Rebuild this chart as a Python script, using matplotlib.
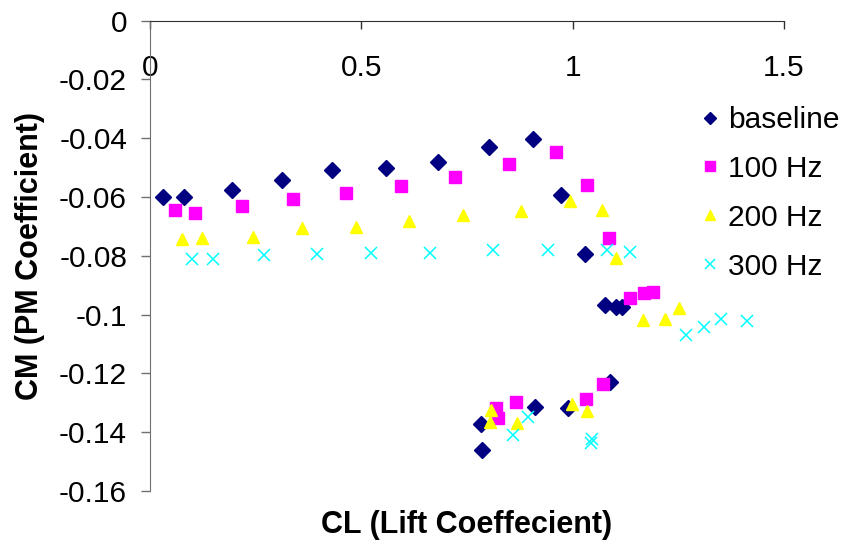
import numpy as np
import matplotlib
matplotlib.use("Agg")
import matplotlib.pyplot as plt
from matplotlib.ticker import FuncFormatter

# CL / CM values
baseline_cl = [0.030, 0.080, 0.193, 0.312, 0.431, 0.558, 0.681, 0.803, 0.907, 0.972,
               1.030, 1.076, 1.102, 1.117, 1.089, 0.989, 0.912, 0.782, 0.785]
baseline_cm = [-0.0600, -0.0601, -0.0575, -0.0541, -0.0510, -0.0502, -0.0481, -0.0430, -0.0404, -0.0593,
               -0.0793, -0.0967, -0.0975, -0.0975, -0.1229, -0.1317, -0.1313, -0.1371, -0.1462]

hz100_cl = [0.058, 0.106, 0.218, 0.338, 0.463, 0.595, 0.722, 0.849, 0.961, 1.035,
            1.087, 1.136, 1.168, 1.190, 1.072, 1.031, 0.867, 0.823, 0.819]
hz100_cm = [-0.0645, -0.0656, -0.0631, -0.0608, -0.0587, -0.0562, -0.0532, -0.0489, -0.0448, -0.0559,
            -0.0738, -0.0943, -0.0926, -0.0923, -0.1235, -0.1286, -0.1296, -0.1351, -0.1318]

hz200_cl = [0.075, 0.123, 0.244, 0.359, 0.487, 0.613, 0.741, 0.877, 0.993, 1.069,
            1.102, 1.166, 1.218, 1.251, 1.035, 0.998, 0.868, 0.806, 0.804]
hz200_cm = [-0.0743, -0.0741, -0.0737, -0.0705, -0.0701, -0.0682, -0.0662, -0.0647, -0.0614, -0.0643,
            -0.0808, -0.1020, -0.1015, -0.0977, -0.1327, -0.1303, -0.1369, -0.1326, -0.1365]

hz300_cl = [0.099, 0.150, 0.270, 0.394, 0.524, 0.662, 0.811, 0.942, 1.081, 1.136,
            1.269, 1.310, 1.352, 1.412, 1.045, 1.043, 0.894, 0.860]
hz300_cm = [-0.0811, -0.0811, -0.0797, -0.0793, -0.0792, -0.0790, -0.0780, -0.0780, -0.0780, -0.0786,
            -0.1071, -0.1041, -0.1014, -0.1022, -0.1422, -0.1436, -0.1349, -0.1411]

x_ticks = [0, 0.5, 1, 1.5]
y_ticks = [0, -0.02, -0.04, -0.06, -0.08, -0.1, -0.12, -0.14, -0.16]

plt.rcParams["font.family"] = ["Liberation Sans", "DejaVu Sans"]

fig = plt.figure(figsize=(8.45, 5.46), dpi=100)
ax = fig.add_axes([150 / 845, 1 - 491 / 546, 634 / 845, 470.5 / 546])

ax.plot(baseline_cl, baseline_cm, "D", color="#000080", ms=7.8, ls="none", label="baseline")
ax.plot(hz100_cl, hz100_cm, "s", color="#FF00FF", ms=8.6, ls="none", label="100 Hz")
ax.plot(hz200_cl, hz200_cm, "^", color="#FFFF00", ms=8.8, ls="none", label="200 Hz")
ax.plot(hz300_cl, hz300_cm, "x", color="#00FFFF", ms=9, mew=1.1, ls="none", label="300 Hz")

ax.set_xlim(0, 1.5)
ax.set_ylim(-0.16, 0)
ax.set_xticks(x_ticks)
ax.set_yticks(y_ticks)
fmt = FuncFormatter(lambda v, p: "%g" % v)
ax.xaxis.set_major_formatter(fmt)
ax.yaxis.set_major_formatter(fmt)

# x axis sits at CM = 0 (top), Excel style
ax.spines["right"].set_visible(False)
ax.spines["top"].set_visible(False)
ax.spines["bottom"].set_position(("data", 0))
ax.spines["bottom"].set_color("#303030")
ax.spines["left"].set_color("#707070")
ax.tick_params(axis="x", direction="out", length=6, width=1, color="#303030",
               pad=18, labelsize=21.5)
ax.tick_params(axis="y", direction="out", length=6.5, width=1, color="#707070",
               pad=10, labelsize=21.5)

fig.text(467 / 845, 1 - 525 / 546, "CL (Lift Coeffecient)", ha="center", va="center",
         fontsize=22, fontweight="bold")
fig.text(30 / 845, 1 - 256 / 546, "CM (PM Coefficient)", ha="center", va="center",
         rotation=90, fontsize=22, fontweight="bold")

ax.legend(loc="upper left", bbox_to_anchor=(698 / 845, 1 - 106 / 546),
          bbox_transform=fig.transFigure, frameon=False, fontsize=21.5,
          markerscale=0.8, handlelength=0.8, handletextpad=0.2,
          borderpad=0, borderaxespad=0, labelspacing=0.7)

fig.savefig("out.png", dpi=100)
